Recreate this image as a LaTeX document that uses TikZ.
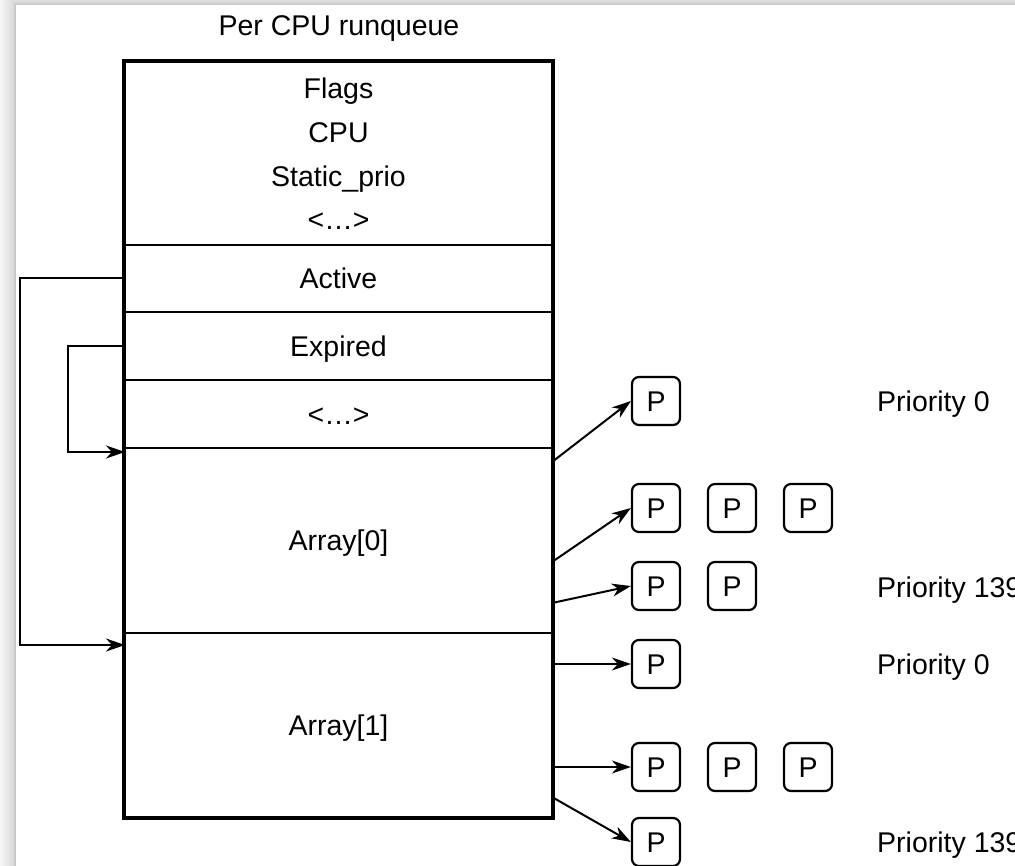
\documentclass[tikz,border=0pt]{standalone}
\usepackage{fontspec}
\setmainfont{Liberation Sans}
\usetikzlibrary{arrows.meta}
\begin{document}
\begin{tikzpicture}[x=1pt,y=-1pt,
  every node/.style={font=\fontsize{28.5}{34}\selectfont, inner sep=0pt},
  cell/.style={draw, line width=2pt, minimum width=427pt, text height=20.4pt, text depth=0pt},
  outer/.style={line width=3.8pt},
  pbox/.style={draw, line width=2.2pt, rounded corners=7pt, minimum width=48pt, minimum height=48pt, text height=20.4pt, text depth=0pt},
  arr/.style={line width=2pt, -{Stealth[length=19pt,width=13pt,inset=6pt]}},
  lbl/.style={anchor=base west},
  fld/.style={anchor=base}
]
\useasboundingbox (0,0) rectangle (1015,866);
\fill[white] (0,0) rectangle (1015,866);
% screenshot frame
\shade[left color=gray!6, right color=gray!30] (0,0) rectangle (14,866);
\fill[gray!42] (14,0) rectangle (16,866);
\shade[top color=gray!25, bottom color=gray!45] (14,0) rectangle (1015,5);

% title
\node[fld] (title) at (339,36) {Per CPU runqueue};

% runqueue cells
\node[cell, minimum height=183pt] (head) at (338.5,153.5) {};
\node[cell, minimum height=67pt] (active) at (338.5,278.5) {Active};
\node[cell, minimum height=68pt] (expired) at (338.5,346) {Expired};
\node[cell, minimum height=68pt] (dots) at (338.5,414) {<…>};
\node[cell, minimum height=185pt] (arr0) at (338.5,540.5) {Array[0]};
\node[cell, minimum height=184pt] (arr1) at (338.5,725) {Array[1]};
\draw[outer] (head.north west) rectangle (arr1.south east);

\node[fld] (flags) at (338.5,99) {Flags};
\node[fld] (cpu) at (338.5,143) {CPU};
\node[fld] (static) at (338.5,187) {Static\_prio};
\node[fld] (hdots) at (338.5,230) {<…>};

% left pointers
\coordinate (a0in) at (125,452);
\coordinate (a1in) at (125,645);
\draw[arr] (expired.west) -- ++(-56.5,0) |- (a0in);
\draw[arr] (active.west) -- ++(-104,0) |- (a1in);

% process boxes
\node[pbox] (p1) at (656,401) {P};
\node[pbox] (p2a) at (656,508) {P};
\node[pbox] (p2b) at (732,508) {P};
\node[pbox] (p2c) at (808,508) {P};
\node[pbox] (p3a) at (656,586) {P};
\node[pbox] (p3b) at (732,586) {P};
\node[pbox] (p4) at (656,664) {P};
\node[pbox] (p5a) at (656,767) {P};
\node[pbox] (p5b) at (732,767) {P};
\node[pbox] (p5c) at (808,767) {P};
\node[pbox] (p6) at (656,842) {P};

% arrows from arrays
\coordinate (s1) at (552,462);
\coordinate (s2) at (552,562);
\coordinate (s3) at (552,603);
\coordinate (s4) at (552,664);
\coordinate (s5) at (552,767);
\coordinate (s6) at (552,797);
\draw[arr] (s1) -- (p1.west);
\draw[arr] (s2) -- (p2a.west);
\draw[arr] (s3) -- (p3a.west);
\draw[arr] (s4) -- (p4.west);
\draw[arr] (s5) -- (p5a.west);
\draw[arr] (s6) -- (p6.west);

% priority labels
\node[lbl] (pr1) at (877,412) {Priority 0};
\node[lbl] (pr2) at (877,597) {Priority 139};
\node[lbl] (pr3) at (877,674) {Priority 0};
\node[lbl] (pr4) at (877,852) {Priority 139};
\end{tikzpicture}
\end{document}
